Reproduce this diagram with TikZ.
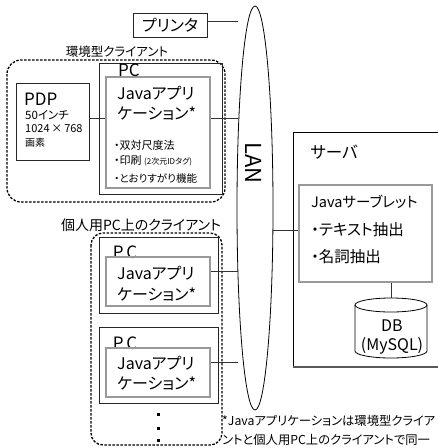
\documentclass[tikz,border=0pt]{standalone}
\usepackage{fontspec}
\setmainfont{Noto Sans CJK JP}[RawFeature=+palt]
\usetikzlibrary{shapes.geometric}
\newcommand{\myfs}[1]{\fontsize{#1}{#1}\selectfont}
\begin{document}
\begin{tikzpicture}[x=1pt,y=-1pt,
  box/.style={draw=black!85, line width=0.8pt, inner sep=0},
  graybox/.style={draw=black!40, line width=1.2pt, inner sep=0},
  dashbox/.style={draw=black, line width=1.3pt, dash pattern=on 2.5pt off 1.5pt, rounded corners=14pt},
  conn/.style={draw=black!80, line width=0.8pt},
  txt/.style={inner sep=0, anchor=west},
  ctxt/.style={inner sep=0},
  javatxt/.style={txt, font=\myfs{16}},
]
\useasboundingbox (0,0) rectangle (438,448);

% printer
\node[box, minimum width=74pt, minimum height=24pt, font=\myfs{16}] (printer) at (170,25) {プリンタ};

% LAN
\node[draw, line width=0.8pt, ellipse, minimum width=36pt, minimum height=404pt, inner sep=0] (lan) at (255,208) {};
\node[ctxt, rotate=-90, font=\myfs{22}] (lanlabel) at (254,163) {LAN};

% environment client
\draw[dashbox] (7,60) rectangle (225,202);
\node[ctxt, font=\myfs{12.5}] (envlabel) at (117,52) {環境型クライアント};
\node[box, minimum width=123pt, minimum height=131pt] (pc0) at (160.5,128.5) {};
\node[ctxt, font=\myfs{17}] (pc0l) at (129,70) {PC};
\node[graybox, minimum width=104pt, minimum height=111pt] (app0) at (158,132.5) {};
\node[javatxt] (e1) at (117,93) {Javaアプリ};
\node[javatxt] (e2) at (117,114) {ケーション*};
\node[txt, font=\myfs{11}] (e3) at (114,145) {・双対尺度法};
\node[txt, font=\myfs{11}] (e4) at (114,161) {・印刷 {\myfs{8}(2次元IDタグ)}};
\node[txt, font=\myfs{10.5}] (e5) at (114,178) {・とおりすがり機能};
\node[box, minimum width=73pt, minimum height=77pt] (pdp) at (52.5,121.5) {};
\node[txt, font=\myfs{17}] (p1) at (24,99) {PDP};
\node[txt, font=\myfs{11.5}] (p2) at (25,115) {50インチ};
\node[txt, font=\myfs{11}] (p3) at (25,129) {1024\,×\,768};
\node[txt, font=\myfs{10}] (p4) at (25,143) {画素};
\draw[conn] (pdp.east |- 0,118) -- (app0.west |- 0,118);
\coordinate (l0) at (238,118);
\draw[conn] (app0.east |- l0) -- (l0);

% printer connector
\coordinate (lp) at (238,21);
\draw[conn] (printer.east |- lp) -- (lp);

% personal clients
\node[ctxt, font=\myfs{14}] (perlabel) at (141,225) {個人用PC上のクライアント};
\draw[dashbox, rounded corners=12pt] (91,233) rectangle (222,445);
\node[box, minimum width=119pt, minimum height=76pt] (pc1) at (158.5,275) {};
\node[ctxt, font=\myfs{17}] (pc1l) at (125,252) {P\,C};
\node[graybox, minimum width=104pt, minimum height=49pt] (app1) at (158,281.5) {};
\node[javatxt] (a1) at (117,273) {Javaアプリ};
\node[javatxt] (a2) at (117,295) {ケーション*};
\coordinate (l1) at (238,271);
\draw[conn] (app1.east |- l1) -- (l1);

\node[box, minimum width=119pt, minimum height=76pt] (pc2) at (158.5,365) {};
\node[ctxt, font=\myfs{17}] (pc2l) at (125,343) {P\,C};
\node[graybox, minimum width=104pt, minimum height=49pt] (app2) at (158,372.5) {};
\node[javatxt] (b1) at (117,363) {Javaアプリ};
\node[javatxt] (b2) at (117,384) {ケーション*};
\coordinate (l2) at (238,362);
\draw[conn] (app2.east |- l2) -- (l2);

\foreach \yy in {413,427,439} \fill (157,\yy) rectangle (159.5,\yy+2.5);

% server
\draw[line width=0.8pt] (438,132) -- (293,132) -- (293,367);
\draw[line width=2pt, draw=black!65] (293,367) -- (438,367);
\node[ctxt, font=\myfs{16.5}] (srvlabel) at (334,152) {サーバ};
\node[graybox, minimum width=133pt, minimum height=97pt] (servlet) at (365.5,233.5) {};
\node[txt, font=\myfs{14.5}] (s1) at (311,202) {Javaサーブレット};
\node[txt, font=\myfs{15.5}] (s2) at (311,230) {・テキスト抽出};
\node[txt, font=\myfs{15.5}] (s3) at (311,257) {・名詞抽出};
\coordinate (ls) at (273,230);
\draw[conn] (ls) -- (ls -| servlet.west);

% DB
\draw[line width=0.8pt, fill=white] (355,305) -- (355,351) arc[start angle=180, end angle=0, x radius=36, y radius=7] -- (427,305);
\draw[line width=0.8pt] (391,305) ellipse [x radius=36, y radius=7];
\coordinate (dbtop) at (391,298);
\draw[conn] (dbtop |- servlet.south) -- (dbtop);
\node[ctxt, font=\myfs{16}, align=center] (db) at (392,337) {DB\\[3pt](MySQL)};

% footnote
\node[txt, font=\myfs{12.3}] (f1) at (222,421) {*Javaアプリケーションは環境型クライア};
\node[txt, font=\myfs{12.3}] (f2) at (222,440) {ントと個人用PC上のクライアントで同一};
\end{tikzpicture}
\end{document}
